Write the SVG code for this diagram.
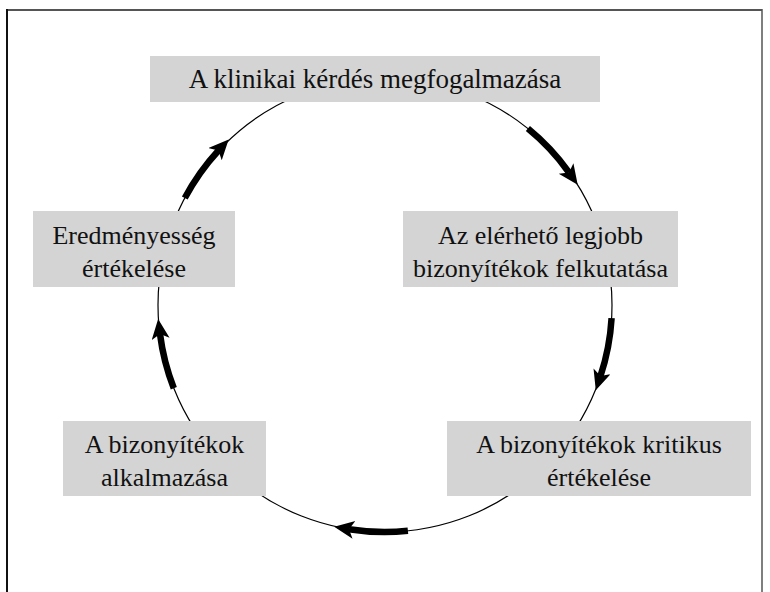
<svg xmlns="http://www.w3.org/2000/svg" width="770" height="592" viewBox="0 0 770 592">
<style>
.box{fill:#d4d4d4}
.t{font-family:"Liberation Serif","Times New Roman",serif;font-size:26px;fill:#111;text-anchor:middle}
.ring{fill:none;stroke:#000;stroke-width:1.2}
.arr{fill:none;stroke:#000;stroke-width:6.5;marker-end:url(#head)}
</style>
<defs>
<marker id="head" markerUnits="userSpaceOnUse" markerWidth="26" markerHeight="22" refX="5" refY="9" orient="auto">
<path d="M0,0 L20,9 L0,18 L5,9 z" fill="#000"/>
</marker>
</defs>
<g id="frame">
<line x1="7" y1="10" x2="762" y2="10" stroke="#555" stroke-width="2"/>
<line x1="7" y1="9" x2="7" y2="592" stroke="#111" stroke-width="2"/>
<line x1="762" y1="9" x2="762" y2="592" stroke="#555" stroke-width="1.5"/>
</g>
<g id="connectors">
<circle class="ring" cx="385" cy="305" r="227"/>
<path class="arr" d="M527.9,128.6 A227,227 0 0 1 569.0,172.5"/>
<path class="arr" d="M611.6,318.1 A227,227 0 0 1 600.5,376.0"/>
<path class="arr" d="M407.9,530.8 A227,227 0 0 1 349.0,529.2"/>
<path class="arr" d="M173.8,388.2 A227,227 0 0 1 160.0,334.0"/>
<path class="arr" d="M184.8,198.1 A227,227 0 0 1 218.5,150.5"/>
</g>
<g id="n1">
<rect class="box" x="150" y="56" width="450" height="46"/>
<text class="t" x="375" y="88" style="font-size:27px">A klinikai kérdés megfogalmazása</text>
</g>
<g id="n2">
<rect class="box" x="403" y="211" width="275" height="76"/>
<text class="t" x="540.5" y="244">Az elérhető legjobb</text>
<text class="t" x="540.5" y="277">bizonyítékok felkutatása</text>
</g>
<g id="n3">
<rect class="box" x="447" y="421" width="304" height="75"/>
<text class="t" x="599" y="453">A bizonyítékok kritikus</text>
<text class="t" x="599" y="486">értékelése</text>
</g>
<g id="n4">
<rect class="box" x="63" y="421" width="203" height="75"/>
<text class="t" x="164.5" y="453">A bizonyítékok</text>
<text class="t" x="164.5" y="486">alkalmazása</text>
</g>
<g id="n5">
<rect class="box" x="33" y="211" width="202" height="76"/>
<text class="t" x="134" y="244">Eredményesség</text>
<text class="t" x="134" y="277">értékelése</text>
</g>
</svg>
